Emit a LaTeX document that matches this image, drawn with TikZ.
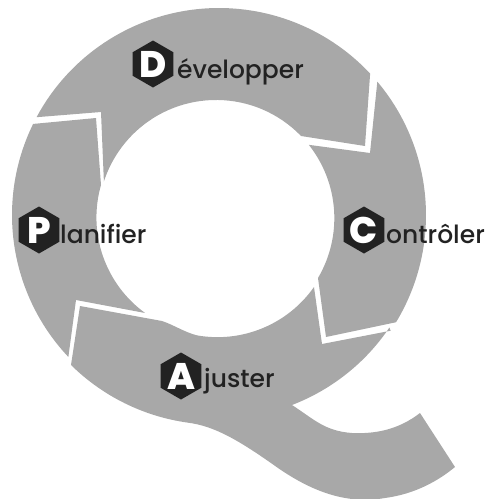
\documentclass[tikz,border=0pt]{standalone}
\usepackage{fontspec}
\setmainfont{Poppins}
\newfontfamily\wordfont{Poppins Medium}
\newfontfamily\hexfont{Poppins ExtraBold}
\usetikzlibrary{shapes.geometric,calc}
\definecolor{seg}{HTML}{A8A8A8}
\definecolor{ink}{HTML}{222222}
\tikzset{
  seg/.style={fill=seg,draw=none},
  hex/.style={regular polygon,regular polygon sides=6,shape border rotate=30,fill=ink,draw=none,minimum size=47pt,inner sep=0pt,text=white,font=\fontsize{37}{37}\hexfont},
  word/.style={anchor=base west,inner sep=0pt,text=ink,font=\fontsize{25}{25}\wordfont}
}
\begin{document}
\begin{tikzpicture}[x=1pt,y=1pt,yscale=-1]
\useasboundingbox (0,0) rectangle (490,499);
\coordinate (O) at (219,215);
\coordinate (I) at (216,218);
% Developper
\fill[seg] ($(O)+(208.2:207)$) arc[start angle=208.2,end angle=316.9,radius=207]
  -- (365,146) -- (301,136)
  arc[start angle=316,end angle=198,radius=118]
  -- (101,112) -- cycle;
% Controler
\fill[seg] ($(O)+(319.9:207)$) arc[start angle=319.9,end angle=391.2,radius=207]
  -- (326,337) -- (318,278)
  arc[start angle=30.5,end angle=-38.4,radius=118]
  -- (370,153) -- cycle;
% Planifier
\fill[seg] ($(O)+(136.7:207)$) arc[start angle=136.7,end angle=206.1,radius=207]
  -- (96,118) -- (101,185)
  arc[start angle=196,end angle=126,radius=118]
  -- (76,300) -- cycle;
% Ajuster
\fill[seg] ($(O)+(34:207)$) -- (322,344) -- (314,287)
  arc[start angle=35.1,end angle=100,radius=118]
  .. controls (184,332) and (174,325) .. (162,321)
  -- (80,306) -- (71,365)
  arc[start angle=134.6,end angle=98,radius=207]
  .. controls (215,426) and (240,441) .. (278,468)
  .. controls (310,490) and (345,505) .. (385,498)
  .. controls (415,494) and (438,481) .. (455,467)
  -- (420,413)
  .. controls (398,430) and (375,434) .. (352,433)
  .. controls (325,431) and (315,420) .. (292,405)
  arc[start angle=69,end angle=34,radius=207]
  -- cycle;
\node[hex] (hd) at (153,64) {D};
\node[hex] (hp) at (39,230) {P};
\node[hex] (hc) at (364,230) {C};
\node[hex] (ha) at (181,376) {A};
\node[word] (td) at (177,78) {évelopper};
\node[word] (tp) at (60,243) {lanifier};
\node[word] (tc) at (386,243) {ontrôler};
\node[word] (ta) at (204,387) {juster};
\end{tikzpicture}
\end{document}
